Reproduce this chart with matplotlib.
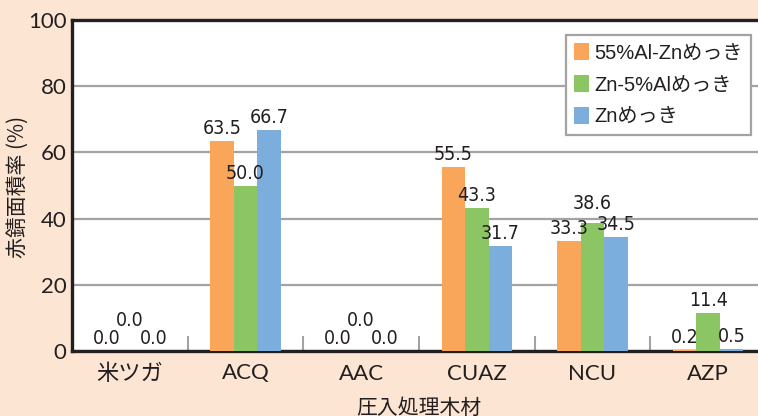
import numpy as np
import matplotlib
matplotlib.use('Agg')
import matplotlib.pyplot as plt

# ---- data ----
categories = ['米ツガ', 'ACQ', 'AAC', 'CUAZ', 'NCU', 'AZP']
series_names = ['55%Al-Znめっき', 'Zn-5%Alめっき', 'Znめっき']
al55_zn = [0.0, 63.5, 0.0, 55.5, 33.3, 0.2]
zn_5al = [0.0, 50.0, 0.0, 43.3, 38.6, 11.4]
zn_only = [0.0, 66.7, 0.0, 31.7, 34.5, 0.5]
y_ticks = [0, 20, 40, 60, 80, 100]

colors = ['#F9A65B', '#8CC664', '#7BAEDC']
bg = '#FDE5D4'
ink = '#231F20'
grid_gray = '#A3A3A3'

# some labels get pushed up so they don't sit on top of each other (points)
nudge = {(0, 1): 13, (2, 1): 13, (4, 1): 5}

fig = plt.figure(figsize=(7.58, 4.16), dpi=100, facecolor=bg)
ax = fig.add_axes([72 / 758, 65 / 416, 694 / 758, 331 / 416])
ax.set_facecolor('white')

x = np.arange(len(categories))
width = 0.203
for i, (vals, col, name) in enumerate(zip([al55_zn, zn_5al, zn_only], colors, series_names)):
    xs = x + (i - 1) * width
    ax.bar(xs, vals, width, color=col, label=name, zorder=3)
    for j, (xx, v) in enumerate(zip(xs, vals)):
        ax.annotate(f'{v:.1f}', (xx, v), xytext=(0, 5 + nudge.get((j, i), 0)),
                    textcoords='offset points', ha='center', va='baseline',
                    fontsize=14, color=ink, family='DejaVu Sans', stretch='condensed',
                    zorder=5)

ax.set_xlim(-0.5, len(categories) - 0.5)
ax.set_ylim(0, 100)
ax.set_yticks(y_ticks)
ax.yaxis.grid(True, color=grid_gray, linewidth=1.6, zorder=0)
ax.set_axisbelow(True)

ax.set_xticks(x)
ax.set_xticklabels(categories)
ax.set_xticks(x[:-1] + 0.5, minor=True)
ax.tick_params(axis='x', which='major', length=0, pad=9)
ax.tick_params(axis='x', which='minor', direction='in', length=11, width=1.5, color=grid_gray)
ax.tick_params(axis='y', length=0, pad=4)
for lab in ax.get_xticklabels() + ax.get_yticklabels():
    lab.set_family(['Lato', 'Noto Sans CJK JP'])
    lab.set_fontsize(16)
    lab.set_color(ink)

for side in ['left', 'bottom', 'top']:
    ax.spines[side].set_color(ink)
    ax.spines[side].set_linewidth(2.4)
ax.spines['right'].set_visible(False)

leg = ax.legend(loc='upper right', bbox_to_anchor=(751 / 758, 1 - 35 / 416),
                bbox_transform=fig.transFigure, borderaxespad=0,
                prop={'family': ['Liberation Sans', 'Noto Sans CJK JP'], 'size': 14.5},
                handlelength=0.74, handleheight=0.9, handletextpad=0.25,
                labelspacing=0.62, borderpad=0.42, fancybox=False, framealpha=1,
                edgecolor=grid_gray)
leg.get_frame().set_linewidth(1.6)
for t in leg.get_texts():
    t.set_color(ink)

fig.text(18 / 758, 1 - 187 / 416, '赤錆面積率 (%)', rotation=90, ha='center', va='center',
         fontsize=15, family=['Noto Sans CJK JP'], color=ink)
fig.text(419 / 758, 1 - 408 / 416, '圧入処理木材', ha='center', va='center',
         fontsize=15, family=['Noto Sans CJK JP'], color=ink)

fig.savefig('out.png', dpi=100, facecolor=bg)
